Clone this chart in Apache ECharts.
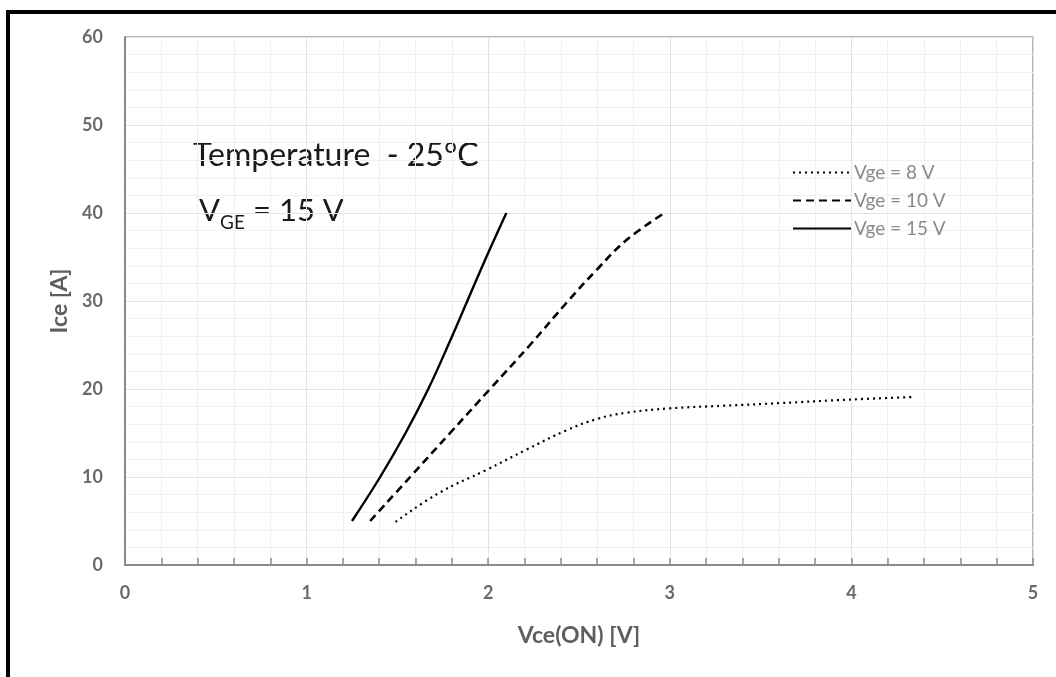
<!DOCTYPE html>
<html>
<head>
<meta charset="utf-8">
<script src="https://cdn.jsdelivr.net/npm/echarts@6/dist/echarts.min.js"></script>
<style>
  html, body { margin: 0; padding: 0; background: #fff; }
  #frame { position: absolute; left: 6px; top: 10px; width: 1060px; height: 680px;
           border-top: 4px solid #000; border-left: 4px solid #000; }
  #chart { position: absolute; left: 0; top: 0; width: 1056px; height: 677px; }
</style>
</head>
<body>
<div id="frame"></div>
<div id="chart"></div>
<script>
// 数据：Vce(ON) [V] 与 Ice [A]
const seriesNames = ['Vge = 8 V', 'Vge = 10 V', 'Vge = 15 V']

const vge8 = [
  [1.49, 4.9], [1.73, 8.2], [1.99, 10.8], [2.21, 13.1], [2.43, 15.3],
  [2.6, 16.6], [2.76, 17.3], [3.0, 17.8], [3.3, 18.1], [3.61, 18.4],
  [3.99, 18.8], [4.35, 19.1]
]
const vge10 = [
  [1.35, 5.0], [1.57, 10.0], [1.79, 15.0], [2.01, 20.0], [2.23, 25.0],
  [2.44, 30.0], [2.6, 33.6], [2.76, 36.9], [2.97, 40.0]
]
const vge15 = [
  [1.25, 5.0], [1.405, 10.0], [1.545, 15.0], [1.67, 20.0], [1.78, 25.0],
  [1.885, 30.0], [1.99, 35.0], [2.1, 40.0]
]

const xTicks = { min: 0, max: 5, interval: 1 }
const yTicks = { min: 0, max: 60, interval: 10 }

const FONT = 'Lato'
const chart = echarts.init(document.getElementById('chart'))

const lineSeries = (name, data, type, width) => ({
  name,
  type: 'line',
  data,
  smooth: 0.4,
  symbol: 'none',
  lineStyle: { color: '#000', width, type },
  itemStyle: { color: '#000' },
  z: 3
})

const option = {
  animation: false,
  textStyle: { fontFamily: FONT },
  grid: {
    left: 125, right: 23, top: 37, bottom: 112,
    show: true, borderColor: '#9a9a9a', borderWidth: 1.5
  },
  legend: {
    orient: 'vertical',
    left: 787, top: 158,
    itemWidth: 58, itemHeight: 14, itemGap: 9,
    data: seriesNames,
    itemStyle: { opacity: 0 },
    textStyle: { color: '#8a8a8a', fontSize: 19, fontFamily: FONT, padding: [0, 0, 0, -2] }
  },
  xAxis: {
    type: 'value',
    min: xTicks.min, max: xTicks.max, interval: xTicks.interval,
    name: 'Vce(ON) [V]',
    nameLocation: 'middle',
    nameGap: 59,
    nameTextStyle: { color: '#5e5e5e', fontSize: 23, fontWeight: 'bold', fontFamily: FONT },
    axisLine: { lineStyle: { color: '#8a8a8a', width: 2 } },
    axisTick: { show: true, inside: true, length: 7, lineStyle: { color: '#8a8a8a', width: 1.5 } },
    minorTick: { show: true, splitNumber: 5, length: 7, lineStyle: { color: '#8a8a8a', width: 1.5 } },
    axisLabel: { color: '#6a6a6a', fontSize: 18, fontWeight: 'bold', margin: 19 },
    splitLine: { show: true, lineStyle: { color: '#dfe4ea', width: 1 } },
    minorSplitLine: { show: true, lineStyle: { color: '#eef1f4', width: 1 } }
  },
  yAxis: {
    type: 'value',
    min: yTicks.min, max: yTicks.max, interval: yTicks.interval,
    name: 'Ice [A]',
    nameLocation: 'middle',
    nameGap: 54,
    nameTextStyle: { color: '#5e5e5e', fontSize: 23, fontWeight: 'bold', fontFamily: FONT },
    axisLine: { show: true, lineStyle: { color: '#8a8a8a', width: 2 } },
    axisTick: { show: false },
    minorTick: { show: false, splitNumber: 5 },
    axisLabel: { color: '#6a6a6a', fontSize: 18, fontWeight: 'bold', margin: 22 },
    splitLine: { show: true, lineStyle: { color: '#dfe4ea', width: 1 } },
    minorSplitLine: { show: true, lineStyle: { color: '#eef1f4', width: 1 } }
  },
  graphic: [
    { type: 'text', left: 193, top: 140,
      style: { text: 'Temperature  - 25°C', fill: '#1a1a1a', font: '32px ' + FONT } },
    { type: 'text', left: 199, top: 195,
      style: { text: 'V', fill: '#1a1a1a', font: '31px ' + FONT } },
    { type: 'text', left: 220, top: 213,
      style: { text: 'GE', fill: '#1a1a1a', font: '19px ' + FONT } },
    { type: 'text', left: 253, top: 195,
      style: { text: '= 15 V', fill: '#1a1a1a', font: '31px ' + FONT } }
  ],
  series: [
    lineSeries(seriesNames[0], vge8, [2, 4], 2.2),
    lineSeries(seriesNames[1], vge10, [8, 5], 2.6),
    lineSeries(seriesNames[2], vge15, 'solid', 2.4)
  ]
}

chart.setOption(option)
</script>
</body>
</html>
